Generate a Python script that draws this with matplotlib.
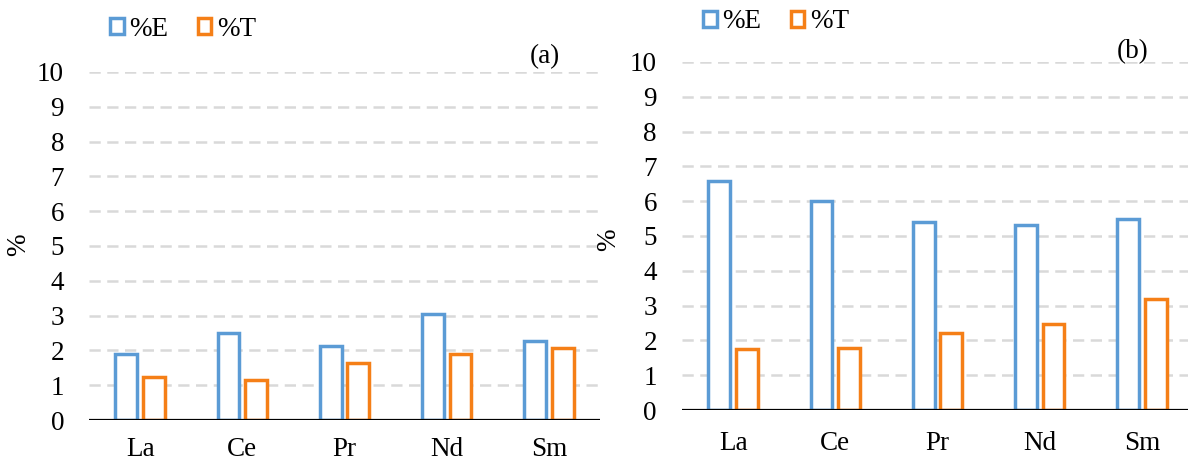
import matplotlib
matplotlib.use("Agg")
import matplotlib.pyplot as plt
import numpy as np

# Elements and measured percentages
elements = ["La", "Ce", "Pr", "Nd", "Sm"]
e_a = [1.89, 2.51, 2.14, 3.04, 2.28]
t_a = [1.24, 1.15, 1.65, 1.90, 2.06]
e_b = [6.57, 6.02, 5.41, 5.31, 5.48]
t_b = [1.75, 1.77, 2.21, 2.47, 3.18]
y_ticks = list(range(0, 11))
panel_tags = ["(a)", "(b)"]

BLUE = "#5B9BD5"
ORANGE = "#F57F17"
GRID = "#D9D9D9"
FONT = "Liberation Serif"
FS = 19.5

plt.rcParams["font.family"] = [FONT, "DejaVu Serif"]

W, H = 1188, 463
fig = plt.figure(figsize=(W / 100, H / 100), dpi=100)


def px_axes(left, top, right, bottom):
    return fig.add_axes([left / W, 1 - bottom / H, (right - left) / W, (bottom - top) / H])


def draw_panel(ax, e_vals, t_vals, tag, ylabel_xy, tag_xy, legend_xy, xpad):
    x = np.arange(len(elements))
    ax.set_xlim(-0.5, len(elements) - 0.5)
    ax.set_ylim(0, 10)
    for v in y_ticks[1:]:
        ax.axhline(v, color=GRID, lw=1.8, ls=(0, (4.5, 2.6)), zorder=0)
    be = ax.bar(x - 0.135, e_vals, width=0.215, facecolor="white",
                edgecolor=BLUE, linewidth=2.5, label="%E", zorder=2)
    bt = ax.bar(x + 0.135, t_vals, width=0.215, facecolor="white",
                edgecolor=ORANGE, linewidth=2.5, label="%T", zorder=2)
    ax.axhline(0, color="black", lw=1.6, zorder=3)
    for s in ax.spines.values():
        s.set_visible(False)
    ax.set_xticks(x)
    ax.set_xticklabels(elements, fontsize=FS)
    ax.set_yticks(y_ticks)
    ax.set_yticklabels([str(v) for v in y_ticks], fontsize=FS)
    ax.tick_params(axis="both", length=0)
    ax.tick_params(axis="y", pad=18)
    ax.tick_params(axis="x", pad=xpad)
    ax.set_ylabel("%", fontsize=FS)
    ax.yaxis.set_label_coords(*ylabel_xy)
    ax.text(tag_xy[0] / W, 1 - tag_xy[1] / H, tag, fontsize=FS,
            transform=fig.transFigure, ha="center", va="center")
    ax.legend(handles=[be, bt], loc="center left",
              bbox_to_anchor=(legend_xy[0] / W, 1 - legend_xy[1] / H),
              bbox_transform=fig.transFigure, ncol=2, frameon=False,
              fontsize=FS, handlelength=0.5, handleheight=0.5,
              handletextpad=0.2, columnspacing=1.1, borderpad=0,
              borderaxespad=0)


ax_a = px_axes(89, 72, 600, 420)
draw_panel(ax_a, e_a, t_a, panel_tags[0], (-0.113, 0.503), (545, 57), (110, 29), 12)

ax_b = px_axes(682, 62, 1193, 410)
draw_panel(ax_b, e_b, t_b, panel_tags[1], (-0.119, 0.49), (1133, 52), (703, 22), 15)

fig.savefig("out.png", dpi=100)
